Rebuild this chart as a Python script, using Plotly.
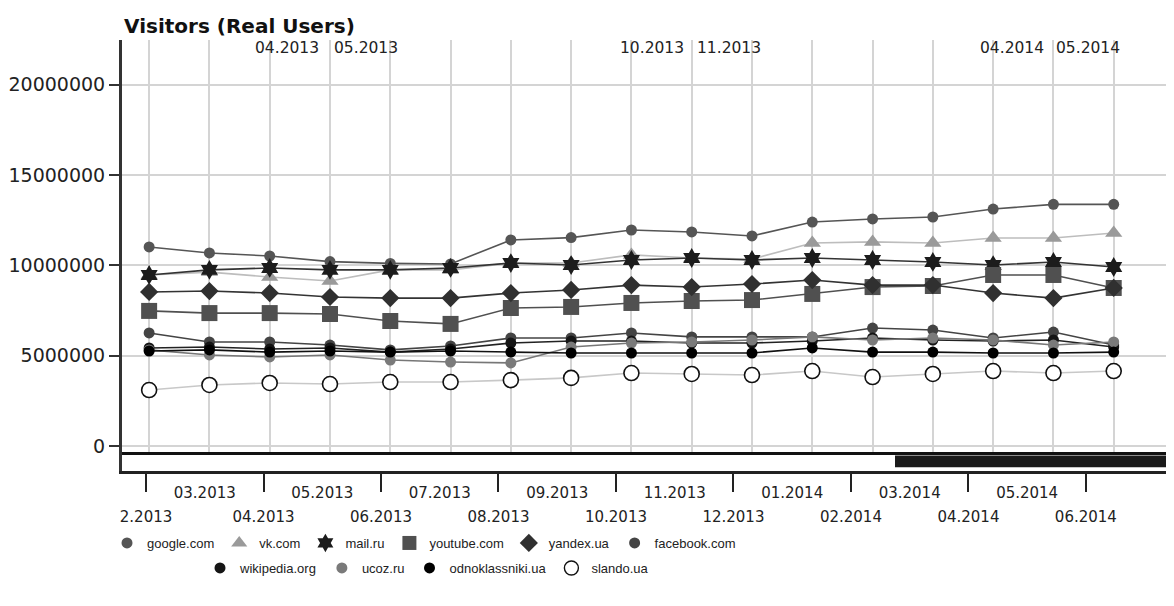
import plotly.graph_objects as go

# ---------------- data ----------------
months = ["02.2013", "03.2013", "04.2013", "05.2013", "06.2013", "07.2013",
          "08.2013", "09.2013", "10.2013", "11.2013", "12.2013", "01.2014",
          "02.2014", "03.2014", "04.2014", "05.2014", "06.2014"]

google = [11020000, 10690000, 10520000, 10210000, 10110000, 10080000, 11410000, 11540000,
          11960000, 11850000, 11630000, 12400000, 12570000, 12680000, 13120000, 13380000, 13380000]
vk = [9470000, 9630000, 9360000, 9140000, 9750000, 9750000, 10130000, 10130000,
      10580000, 10410000, 10350000, 11240000, 11300000, 11240000, 11520000, 11520000, 11790000]
mail = [9470000, 9750000, 9860000, 9750000, 9750000, 9860000, 10130000, 10020000,
        10300000, 10410000, 10300000, 10410000, 10300000, 10190000, 10020000, 10190000, 9910000]
youtube = [7480000, 7360000, 7360000, 7310000, 6920000, 6760000, 7640000, 7700000,
           7920000, 8030000, 8080000, 8420000, 8800000, 8860000, 9470000, 9470000, 8750000]
yandex = [8530000, 8580000, 8470000, 8250000, 8190000, 8190000, 8470000, 8640000,
          8910000, 8800000, 8970000, 9190000, 8910000, 8910000, 8470000, 8190000, 8750000]
facebook = [6260000, 5760000, 5760000, 5590000, 5320000, 5540000, 5980000, 5980000,
            6260000, 6040000, 6040000, 6040000, 6530000, 6420000, 5980000, 6310000, 5590000]
wikipedia = [5430000, 5480000, 5370000, 5430000, 5200000, 5370000, 5700000, 5810000,
             5810000, 5700000, 5700000, 5810000, 5980000, 5870000, 5810000, 5870000, 5480000]
ucoz = [5320000, 5040000, 4930000, 5040000, 4760000, 4650000, 4600000, 5480000,
        5700000, 5760000, 5870000, 6040000, 5870000, 5980000, 5870000, 5590000, 5760000]
odnoklassniki = [5260000, 5320000, 5200000, 5260000, 5200000, 5260000, 5200000, 5150000,
                 5150000, 5150000, 5150000, 5430000, 5200000, 5200000, 5150000, 5150000, 5200000]
slando = [3100000, 3380000, 3490000, 3430000, 3540000, 3540000, 3650000, 3770000,
          4040000, 3990000, 3930000, 4150000, 3820000, 3990000, 4150000, 4040000, 4150000]

y_ticks = [0, 5000000, 10000000, 15000000, 20000000]
top_labels = ["04.2013", "05.2013", "10.2013", "11.2013", "04.2014", "05.2014"]
nav_labels = ["2.2013"] + months[1:]   # first label appears cropped in the original
title_text = "Visitors (Real Users)"

# ---------------- styles ----------------
series = [
    # name, values, symbol, size, marker colour, line colour, marker outline, legend
    ("google.com", google, "circle", 11, "#555555", "#555555", None, "legend"),
    ("vk.com", vk, "triangle-up", 15, "#9a9a9a", "#bdbdbd", None, "legend"),
    ("mail.ru", mail, "hexagram", 15, "#1c1c1c", "#333333", None, "legend"),
    ("youtube.com", youtube, "square", 16, "#505050", "#505050", None, "legend"),
    ("yandex.ua", yandex, "diamond", 14, "#303030", "#333333", None, "legend"),
    ("facebook.com", facebook, "circle", 11, "#444444", "#444444", None, "legend"),
    ("wikipedia.org", wikipedia, "circle", 11, "#151515", "#222222", None, "legend2"),
    ("ucoz.ru", ucoz, "circle", 11, "#7a7a7a", "#777777", None, "legend2"),
    ("odnoklassniki.ua", odnoklassniki, "circle", 11, "#000000", "#111111", None, "legend2"),
    ("slando.ua", slando, "circle", 15, "#ffffff", "#c8c8c8", "#111111", "legend2"),
]

fig = go.Figure()
for name, vals, sym, size, mcol, lcol, outline, _ in series:
    mk = dict(symbol=sym, size=size, color=mcol)
    if outline:
        mk["line"] = dict(color=outline, width=1.6)
    fig.add_trace(go.Scatter(x=months, y=vals, mode="lines+markers", name=name,
                             line=dict(color=lcol, width=1.6), marker=mk,
                             showlegend=False))

# legend-only entries (markers only, as in the original)
for name, vals, sym, size, mcol, lcol, outline, leg in series:
    mk = dict(symbol=sym, size=min(size, 14), color=mcol)
    if outline:
        mk["line"] = dict(color=outline, width=1.4)
    fig.add_trace(go.Scatter(x=[None], y=[None], mode="markers", name=name,
                             marker=mk, legend=leg, showlegend=True, hoverinfo="skip"))

idx = list(range(len(months)))
even_idx = idx[0::2]
odd_idx = idx[1::2]

grid_col = "#d4d4d4"
H_PLOT = 431.0
W_PLOT = 1052.0
main_bottom = 19 / H_PLOT

# the page adds an 8px body margin, so the figure is 8px smaller than the window
fig.update_layout(
    width=1166, height=598,
    margin=dict(l=114, r=0, t=32, b=135),
    paper_bgcolor="white", plot_bgcolor="white",
    font=dict(family="DejaVu Sans", color="#222222", size=14),
    xaxis=dict(type="category", range=[-0.45, 17.0], anchor="y",
               showgrid=True, gridcolor=grid_col, gridwidth=1.5,
               showticklabels=False, ticks="", zeroline=False,
               showline=True, linecolor="#111111", linewidth=3),
    yaxis=dict(domain=[main_bottom, 1], range=[-332000, 22480000],
               tickvals=y_ticks, tickformat="d",
               showgrid=True, gridcolor=grid_col, gridwidth=1.5, zeroline=False,
               showline=True, linecolor="#333333", linewidth=3,
               ticks="outside", ticklen=10, tickwidth=2, tickcolor="#333333",
               tickfont=dict(size=19, color="#222222")),
    xaxis2=dict(anchor="y2", range=[-0.409, 17.5],
                tickmode="array", tickvals=even_idx,
                ticktext=[nav_labels[i] for i in even_idx],
                ticks="outside", ticklen=18, tickwidth=2, tickcolor="#222222",
                showline=True, linecolor="#222222", linewidth=2.5,
                showgrid=False, zeroline=False,
                tickfont=dict(size=15, color="#222222"), ticklabelstandoff=12),
    xaxis3=dict(anchor="y2", overlaying="x2", side="bottom", range=[-0.409, 17.5],
                tickmode="array", tickvals=odd_idx,
                ticktext=[nav_labels[i] for i in odd_idx],
                ticks="", showline=False, showgrid=False, zeroline=False,
                tickfont=dict(size=15, color="#222222"), ticklabelstandoff=11),
    yaxis2=dict(domain=[0, main_bottom], range=[0, 1], anchor="x2",
                showgrid=False, zeroline=False, showticklabels=False, ticks="",
                showline=True, linecolor="#333333", linewidth=3),
    legend=dict(orientation="h", x=(424 - 122) / W_PLOT, xanchor="center",
                y=(471 - 543) / H_PLOT, yanchor="middle",
                font=dict(family="Liberation Sans", size=13, color="#222222"),
                bgcolor="rgba(0,0,0,0)", itemwidth=30, traceorder="normal"),
    legend2=dict(orientation="h", x=(427 - 122) / W_PLOT, xanchor="center",
                 y=(471 - 568) / H_PLOT, yanchor="middle",
                 font=dict(family="Liberation Sans", size=13, color="#222222"),
                 bgcolor="rgba(0,0,0,0)", itemwidth=30, traceorder="normal"),
)

# invisible helper traces so the navigator axes exist
fig.add_trace(go.Scatter(x=idx, y=[None] * len(idx), xaxis="x2", yaxis="y2",
                         mode="lines", showlegend=False, hoverinfo="skip"))
fig.add_trace(go.Scatter(x=idx, y=[None] * len(idx), xaxis="x3", yaxis="y2",
                         mode="lines", showlegend=False, hoverinfo="skip"))

# navigator thumb
fig.add_shape(type="rect", xref="paper", yref="y2", x0=(895 - 122) / W_PLOT, x1=1.0,
              y0=0.2, y1=0.82, fillcolor="#1a1a1a", line=dict(width=0))

# title
fig.add_annotation(text="<b>" + title_text + "</b>", xref="paper", yref="paper",
                   x=0, y=(471 - 26) / H_PLOT, xanchor="left", yanchor="middle",
                   showarrow=False, font=dict(size=20, color="#111111"))

# labels at the top of the plot
shifts = [-17, 2, -13, 3, -15, 1]
for lab, sh in zip(top_labels, shifts):
    fig.add_annotation(text=lab, xref="x", yref="paper", x=months.index(lab),
                       y=(471 - 48) / H_PLOT,
                       xanchor="left", yanchor="middle", xshift=sh, showarrow=False,
                       font=dict(size=15.5, color="#222222"))

fig.write_html("out.html")
